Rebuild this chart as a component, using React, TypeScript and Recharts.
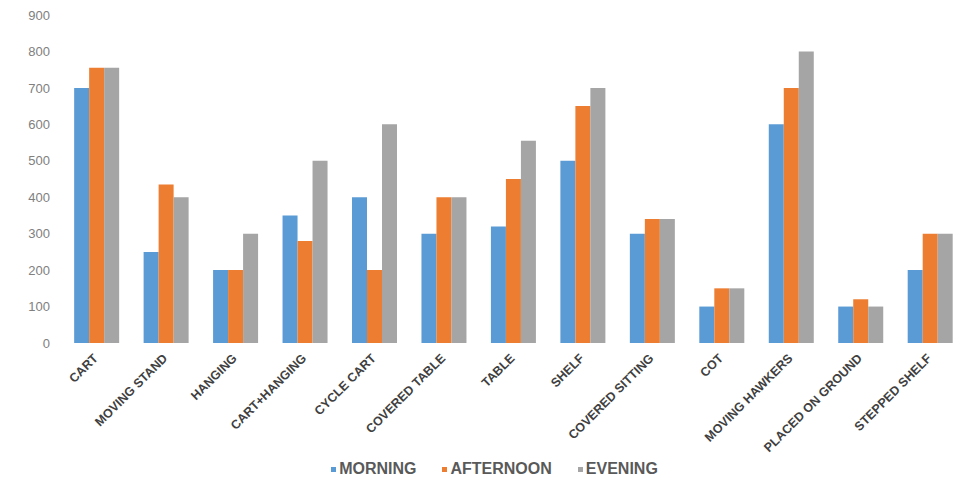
import React from "react";
import { BarChart, Bar, XAxis, YAxis, Legend } from "recharts";

const categories = [
  "CART", "MOVING STAND", "HANGING", "CART+HANGING", "CYCLE CART", "COVERED TABLE",
  "TABLE", "SHELF", "COVERED SITTING", "COT", "MOVING HAWKERS", "PLACED ON GROUND", "STEPPED SHELF",
];
const morning = [700, 250, 200, 350, 400, 300, 320, 500, 300, 100, 600, 100, 200];
const afternoon = [755, 435, 200, 280, 200, 400, 450, 650, 340, 150, 700, 120, 300];
const evening = [755, 400, 300, 500, 600, 400, 555, 700, 340, 150, 800, 100, 300];
const yTicks = [0, 100, 200, 300, 400, 500, 600, 700, 800, 900];

const seriesNames = ["MORNING", "AFTERNOON", "EVENING"];
const colors = ["#5B9BD5", "#ED7D31", "#A5A5A5"];

const data = categories.map((c, i) => ({
  name: c,
  MORNING: morning[i],
  AFTERNOON: afternoon[i],
  EVENING: evening[i],
}));

const XTick = (props: any) => {
  const { x, y, payload } = props;
  const tx = x + 2;
  const ty = y + 8;
  return (
    <text
      x={tx}
      y={ty}
      transform={`rotate(-45, ${tx}, ${ty})`}
      textAnchor="end"
      fontSize={12.5}
      fontWeight="bold"
      fontFamily="'Liberation Sans', Arial, sans-serif"
      fill="#404040"
    >
      {payload.value}
    </text>
  );
};

const LegendContent = () => (
  <div
    style={{
      display: "flex",
      justifyContent: "center",
      alignItems: "center",
      fontFamily: "'Liberation Sans', Arial, sans-serif",
      fontWeight: "bold",
      fontSize: 16,
      color: "#595959",
      paddingLeft: 24,
      paddingTop: 3,
    }}
  >
    {seriesNames.map((n, i) => (
      <div key={n} style={{ display: "flex", alignItems: "center", marginRight: i < 2 ? 26 : 0 }}>
        <span
          style={{ display: "inline-block", width: 5, height: 5, background: colors[i], marginRight: 3 }}
        />
        <span>{n}</span>
      </div>
    ))}
  </div>
);

export default function App() {
  return (
    <div style={{ position: "absolute", left: 0, top: 0, width: 972, height: 484, background: "#fff" }}>
      <BarChart
        width={972}
        height={484}
        data={data}
        margin={{ top: 15, right: 7, left: 0, bottom: 3 }}
        barCategoryGap="17.5%"
        barGap={0}
      >
        <XAxis
          dataKey="name"
          interval={0}
          tick={<XTick />}
          tickLine={false}
          axisLine={false}
          height={114}
        />
        <YAxis
          domain={[0, 900]}
          ticks={yTicks}
          width={62}
          tickLine={false}
          axisLine={false}
          tickSize={0}
          tickMargin={12}
          tick={{ fontSize: 13, fill: "#808080", fontFamily: "'Liberation Sans', Arial, sans-serif" }}
        />
        <Legend verticalAlign="bottom" height={24} content={<LegendContent />} />
        {seriesNames.map((n, i) => (
          <Bar key={n} dataKey={n} fill={colors[i]} isAnimationActive={false} />
        ))}
      </BarChart>
    </div>
  );
}
